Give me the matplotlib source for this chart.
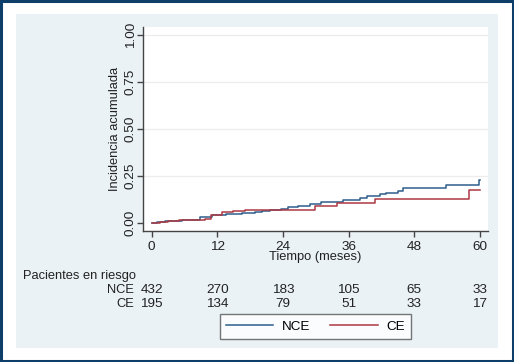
import numpy as np
import matplotlib.pyplot as plt
from matplotlib.patches import Rectangle
from matplotlib.transforms import blended_transform_factory

plt.rcParams['font.family'] = ['Liberation Sans', 'DejaVu Sans']

# curvas de incidencia acumulada (escalones)
t_nce = [0, 1, 2.5, 4, 5.5, 7, 8.8, 11, 13.5, 16.5, 18.9, 20.1, 21.6, 23.7, 24.9,
         26.7, 28.9, 31, 35, 38, 39.3, 41.7, 42.9, 45.1, 46, 53.9, 59.8, 60]
y_nce = [0, 0.005, 0.01, 0.013, 0.016, 0.019, 0.034, 0.043, 0.048, 0.053, 0.058,
         0.065, 0.072, 0.078, 0.085, 0.092, 0.1, 0.112, 0.126, 0.135, 0.145, 0.153,
         0.162, 0.174, 0.186, 0.202, 0.228, 0.228]
t_ce = [0, 1.5, 3, 5, 9.8, 10.8, 12.8, 14.9, 17, 29.8, 33.8, 40.9, 58, 60]
y_ce = [0, 0.008, 0.012, 0.015, 0.025, 0.045, 0.058, 0.065, 0.073, 0.092, 0.108,
        0.13, 0.175, 0.175]

tiempos = [0, 12, 24, 36, 48, 60]
riesgo_nce = [432, 270, 183, 105, 65, 33]
riesgo_ce = [195, 134, 79, 51, 33, 17]

c_nce = '#2d5e8c'
c_ce = '#ad3842'
fs = 9.3

fig = plt.figure(figsize=(5.14, 3.62), dpi=100)
fig.patch.set_facecolor('white')

# marco exterior y panel
fig.patches.append(Rectangle((0.002, 0.003), 0.996, 0.994, transform=fig.transFigure,
                             facecolor='none', edgecolor='#0d3d69', lw=2.2, zorder=-2))
fig.patches.append(Rectangle((16 / 514, 1 - 348 / 362), 482 / 514, 334 / 362,
                             transform=fig.transFigure, facecolor='#eaf2f6',
                             edgecolor='none', zorder=-2))

ax = fig.add_axes([143 / 514, 1 - 231 / 362, 345 / 514, 204 / 362])
ax.set_zorder(2)
ax.set_facecolor('white')
ax.step(t_nce, y_nce, where='post', color=c_nce, lw=1.1, label='NCE')
ax.step(t_ce, y_ce, where='post', color=c_ce, lw=1.1, label='CE')

ax.set_xlim(-1.6, 61.5)
ax.set_ylim(-0.041, 1.042)
ax.set_xticks(tiempos)
ax.set_yticks([0, 0.25, 0.5, 0.75, 1.0])
ax.set_yticklabels(['0.00', '0.25', '0.50', '0.75', '1.00'], rotation=90, va='center')
for g in [0.25, 0.5, 0.75, 1.0]:
    ax.axhline(g, color='#ececec', lw=0.9, zorder=0)
for s in ['top', 'right']:
    ax.spines[s].set_visible(False)
for s in ['left', 'bottom']:
    ax.spines[s].set_color('#444444')
    ax.spines[s].set_linewidth(1)
ax.tick_params(axis='both', colors='#444444', labelcolor='#222222', labelsize=fs + 0.4,
               length=4, width=1)
ax.tick_params(axis='x', pad=3)
ax.tick_params(axis='y', pad=0.5)
ax.set_ylabel('Incidencia acumulada', fontsize=fs, color='#222222', labelpad=3)
ax.set_xlabel('Tiempo (meses)', fontsize=fs, color='#222222', labelpad=-1)

# tabla de pacientes en riesgo
tr = blended_transform_factory(ax.transData, fig.transFigure)
fig.text(23 / 514, 1 - 276 / 362, 'Pacientes en riesgo', fontsize=fs, va='center',
         ha='left', color='#222222')
fig.text(134 / 514, 1 - 290 / 362, 'NCE', fontsize=fs, va='center', ha='right', color='#222222')
fig.text(134 / 514, 1 - 304 / 362, 'CE', fontsize=fs, va='center', ha='right', color='#222222')
for t, n1, n2 in zip(tiempos, riesgo_nce, riesgo_ce):
    ax.text(t, 1 - 290 / 362, str(n1), transform=tr, fontsize=fs + 0.4, ha='center',
            va='center', color='#222222')
    ax.text(t, 1 - 304 / 362, str(n2), transform=tr, fontsize=fs + 0.4, ha='center',
            va='center', color='#222222')

leg = fig.legend(loc='center', bbox_to_anchor=(315.5 / 514, 1 - 326.5 / 362), ncol=2,
                 fontsize=fs + 0.4, handlelength=3.5, handletextpad=0.65, columnspacing=1.5,
                 frameon=True, fancybox=False, borderpad=0.45)
leg.get_frame().set_edgecolor('#555555')
leg.get_frame().set_linewidth(1)
leg.set_zorder(3)

fig.savefig('out.png', dpi=100)
